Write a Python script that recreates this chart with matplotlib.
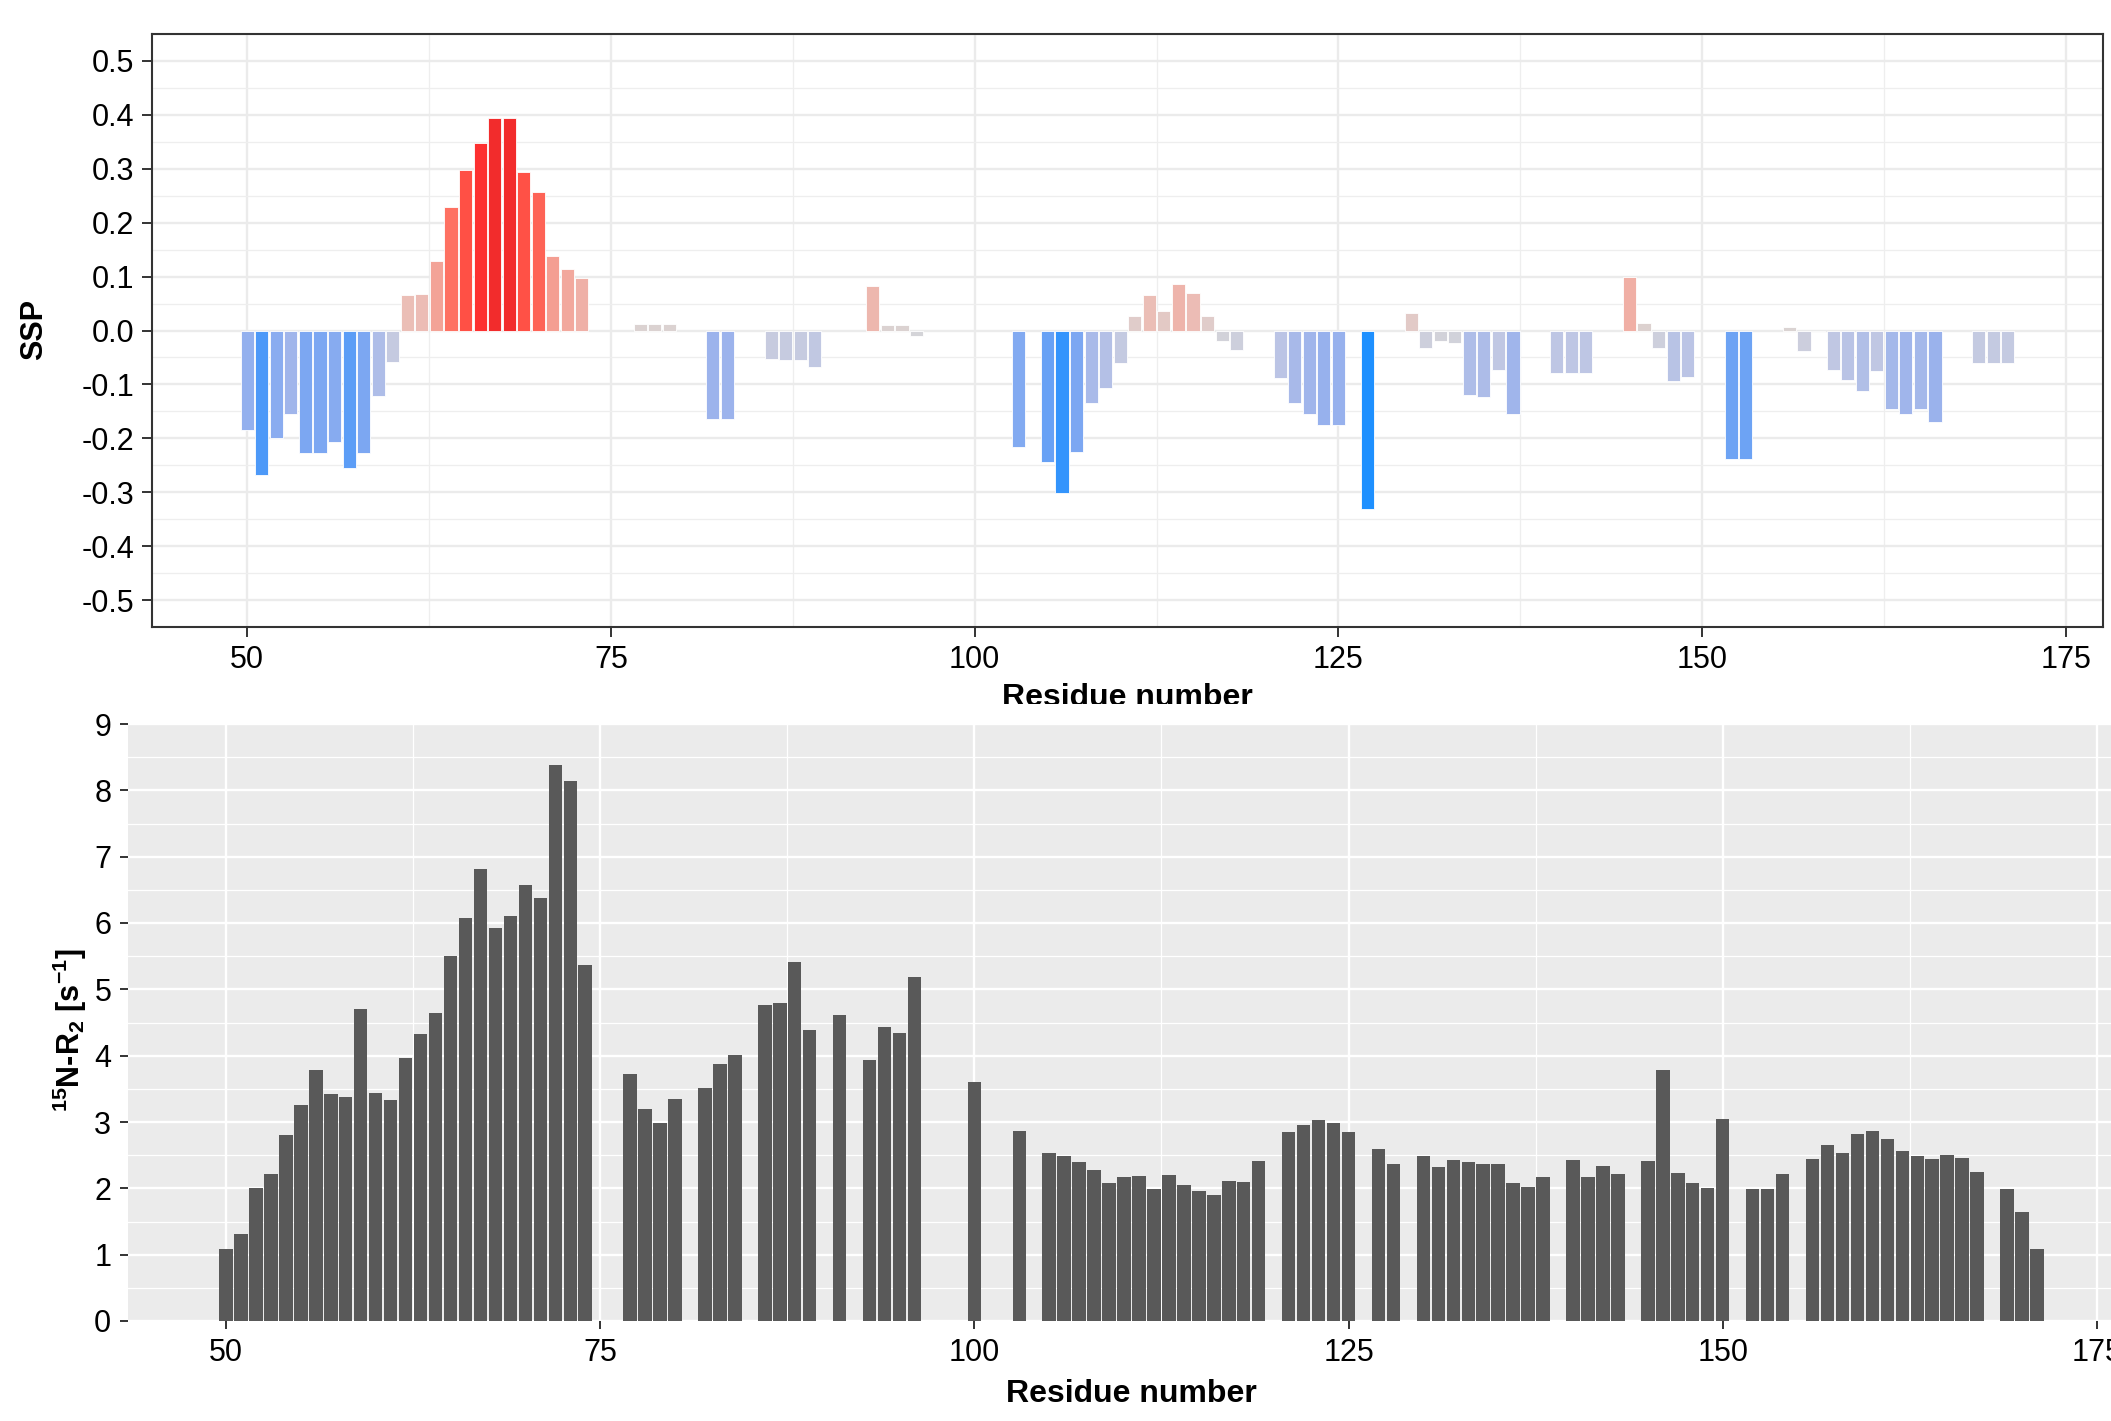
import matplotlib
matplotlib.use("Agg")
import matplotlib.pyplot as plt
import numpy as np
from matplotlib.colors import LinearSegmentedColormap, TwoSlopeNorm
from matplotlib.patches import Rectangle
from matplotlib.ticker import MultipleLocator

# secondary structure propensity per residue (gaps = no data)
ssp_residues = [50, 51, 52, 53, 54, 55, 56, 57, 58, 59, 60, 61, 62, 63, 64, 65, 66, 67, 68, 69, 70, 71, 72, 73,
                77, 78, 79, 82, 83, 86, 87, 88, 89, 93, 94, 95, 96,
                103, 105, 106, 107, 108, 109, 110, 111, 112, 113, 114, 115, 116, 117, 118,
                121, 122, 123, 124, 125, 127, 130, 131, 132, 133, 134, 135, 136, 137,
                140, 141, 142, 145, 146, 147, 148, 149, 152, 153,
                156, 157, 158, 159, 160, 161, 162, 163, 164, 165, 166, 169, 170, 171]
ssp_values = [-0.184, -0.268, -0.200, -0.154, -0.227, -0.227, -0.206, -0.255, -0.228, -0.121, -0.059,
              0.066, 0.068, 0.128, 0.229, 0.297, 0.347, 0.394, 0.394, 0.294, 0.256, 0.138, 0.114, 0.098,
              0.012, 0.012, 0.012, -0.165, -0.165, -0.053, -0.055, -0.055, -0.068, 0.082, 0.011, 0.011, -0.011,
              -0.216, -0.244, -0.302, -0.226, -0.134, -0.106, -0.060, 0.026, 0.065, 0.036, 0.087, 0.069, 0.026,
              -0.020, -0.036,
              -0.088, -0.135, -0.155, -0.176, -0.175, -0.332, 0.032, -0.033, -0.019, -0.023, -0.120, -0.123,
              -0.074, -0.155,
              -0.078, -0.078, -0.078, 0.099, 0.014, -0.033, -0.094, -0.087, -0.239, -0.239,
              0.007, -0.038, -0.003, -0.074, -0.091, -0.112, -0.075, -0.145, -0.154, -0.145, -0.169,
              -0.060, -0.060, -0.060]
ssp_ticks = [-0.5, -0.4, -0.3, -0.2, -0.1, 0.0, 0.1, 0.2, 0.3, 0.4, 0.5]
ssp_tick_labels = ["-0.5", "-0.4", "-0.3", "-0.2", "-0.1", "0.0", "0.1", "0.2", "0.3", "0.4", "0.5"]

# 15N R2 relaxation rates
r2_residues = [50, 51, 52, 53, 54, 55, 56, 57, 58, 59, 60, 61, 62, 63, 64, 65, 66, 67, 68, 69, 70, 71, 72, 73, 74,
               77, 78, 79, 80, 82, 83, 84, 86, 87, 88, 89, 91, 93, 94, 95, 96, 100, 103,
               105, 106, 107, 108, 109, 110, 111, 112, 113, 114, 115, 116, 117, 118, 119,
               121, 122, 123, 124, 125, 127, 128, 130, 131, 132, 133, 134, 135, 136, 137, 138,
               140, 141, 142, 143, 145, 146, 147, 148, 149, 150, 152, 153, 154,
               156, 157, 158, 159, 160, 161, 162, 163, 164, 165, 166, 167, 169, 170, 171]
r2_values = [1.08, 1.31, 2.00, 2.22, 2.80, 3.25, 3.78, 3.42, 3.38, 4.70, 3.43, 3.33, 3.97, 4.32, 4.65, 5.50,
             6.08, 6.82, 5.92, 6.11, 6.58, 6.38, 8.38, 8.14, 5.36,
             3.72, 3.19, 2.98, 3.34, 3.51, 3.87, 4.01, 4.77, 4.79, 5.41, 4.39, 4.61, 3.94, 4.43, 4.34, 5.19,
             3.61, 2.87,
             2.54, 2.49, 2.40, 2.27, 2.08, 2.17, 2.18, 1.99, 2.20, 2.05, 1.96, 1.90, 2.11, 2.09, 2.41,
             2.85, 2.95, 3.03, 2.98, 2.85, 2.59, 2.36, 2.49, 2.32, 2.42, 2.40, 2.36, 2.36, 2.08, 2.02, 2.17,
             2.42, 2.17, 2.33, 2.22, 2.41, 3.79, 2.23, 2.08, 2.00, 3.04, 1.99, 1.99, 2.22,
             2.44, 2.65, 2.54, 2.82, 2.87, 2.74, 2.56, 2.49, 2.44, 2.50, 2.46, 2.24, 1.99, 1.64, 1.08]
r2_ticks = [0, 1, 2, 3, 4, 5, 6, 7, 8, 9]

W, H = 2111, 1421
XLIM = (43.45, 177.55)
X_TICKS = [50, 75, 100, 125, 150, 175]

plt.rcParams["font.family"] = ["Liberation Sans", "DejaVu Sans"]
plt.rcParams["axes.unicode_minus"] = False
plt.rcParams["mathtext.fontset"] = "custom"
plt.rcParams["mathtext.rm"] = "Liberation Sans"
plt.rcParams["mathtext.bf"] = "Liberation Sans:bold"
plt.rcParams["mathtext.it"] = "Liberation Sans:italic"

ssp_cmap = LinearSegmentedColormap.from_list("ssp", [
    (0.00, "#1E90FF"), (0.09, "#4A98F8"), (0.16, "#7EA8F2"), (0.25, "#9CB3EC"),
    (0.38, "#BEC6E4"), (0.50, "#D8D6D6"), (0.58, "#EBBFB8"), (0.66, "#F3A498"),
    (0.79, "#FE7263"), (0.88, "#FF4F44"), (0.94, "#FD3030"), (1.00, "#F22C2C"),
])
ssp_norm = TwoSlopeNorm(vmin=min(ssp_values), vcenter=0.0, vmax=max(ssp_values))


def px_axes(fig, left, top, right, bottom):
    return fig.add_axes([left / W, 1 - bottom / H, (right - left) / W, (bottom - top) / H])


fig = plt.figure(figsize=(W / 100, H / 100), dpi=100)

# --- SSP panel (theme_bw look) ---
ax1 = px_axes(fig, 152, 34, 2103, 627)
ax1.set_zorder(0)
ax1.bar(ssp_residues, ssp_values, width=0.9, color=ssp_cmap(ssp_norm(np.array(ssp_values))),
        edgecolor="white", linewidth=0.6, zorder=2)
ax1.set_xlim(*XLIM)
ax1.set_ylim(-0.55, 0.55)
ax1.set_xticks(X_TICKS)
ax1.set_yticks(ssp_ticks, labels=ssp_tick_labels)
ax1.xaxis.set_minor_locator(MultipleLocator(12.5))
ax1.yaxis.set_minor_locator(MultipleLocator(0.05))
ax1.grid(which="major", color="#EBEBEB", linewidth=1.7, zorder=0)
ax1.grid(which="minor", color="#EEEEEE", linewidth=0.9, zorder=0)
ax1.set_axisbelow(True)
for s in ax1.spines.values():
    s.set_color("#333333")
    s.set_linewidth(1.5)
ax1.tick_params(which="major", length=7, width=1.4, color="#333333", labelsize=22, labelcolor="black", pad=6)
ax1.tick_params(which="minor", length=0)

fig.text(34 / W, 1 - 330 / H, "SSP", rotation=90, ha="center", va="center",
         fontsize=22, fontweight="bold")
fig.text(1127.5 / W, 1 - 706.5 / H, "Residue number", ha="center", va="baseline",
         fontsize=23, fontweight="bold", zorder=0.5)

# white band of the lower figure hiding the bottom of the upper x label
fig.patches.append(Rectangle((0, 0), 1, 1 - 704 / H, transform=fig.transFigure,
                             facecolor="white", edgecolor="none", zorder=1))

# --- R2 panel (theme_gray look) ---
ax2 = px_axes(fig, 128, 724, 2135, 1321)
ax2.set_zorder(2)
ax2.set_facecolor("#EBEBEB")
ax2.bar(r2_residues, r2_values, width=0.9, color="#595959", zorder=2)
ax2.set_xlim(*XLIM)
ax2.set_ylim(0, 9)
ax2.set_xticks(X_TICKS)
ax2.set_yticks(r2_ticks)
ax2.xaxis.set_minor_locator(MultipleLocator(12.5))
ax2.yaxis.set_minor_locator(MultipleLocator(0.5))
ax2.grid(which="major", color="white", linewidth=1.7, zorder=0)
ax2.grid(which="minor", color="white", linewidth=0.9, zorder=0)
ax2.set_axisbelow(True)
for s in ax2.spines.values():
    s.set_visible(False)
ax2.tick_params(which="major", length=6, width=1.4, color="#333333", labelsize=22, labelcolor="black", pad=6)
ax2.tick_params(which="minor", length=0)

fig.text(70 / W, 1 - 1030 / H, r"$\mathbf{{}^{15}N}$-$\mathbf{R_{2}}$ [$\mathbf{s^{-1}}$]",
         rotation=90, ha="center", va="center", fontsize=22, fontweight="bold", zorder=3)
fig.text(1131 / W, 1 - 1402 / H, "Residue number", ha="center", va="baseline",
         fontsize=23, fontweight="bold", zorder=3)

fig.savefig("out.png", dpi=100, facecolor="white")
